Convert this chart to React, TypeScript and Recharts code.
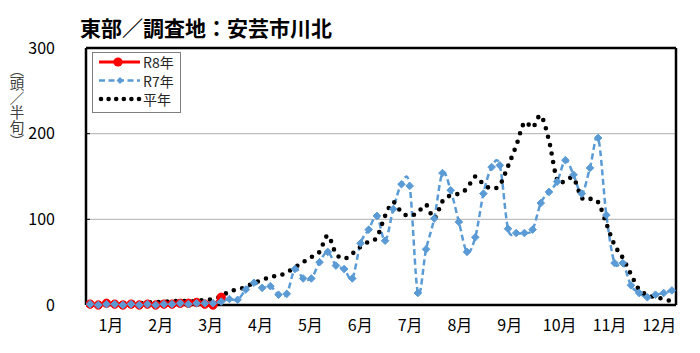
import React from "react";
import {
  ComposedChart,
  Line,
  XAxis,
  YAxis,
  CartesianGrid,
  ReferenceLine,
  Legend,
} from "recharts";

const TITLE = "東部／調査地：安芸市川北";
const Y_LABEL = "（頭／半旬）";
const MONTHS = ["1月", "2月", "3月", "4月", "5月", "6月", "7月", "8月", "9月", "10月", "11月", "12月"];
const Y_TICKS = [0, 100, 200, 300];

// 72 half-month (半旬) periods
const R8 = [1, 0, 2, 1, 0, 1, 0, 1, 0, 1, 1, 2, 2, 3, 1, 0, 9];
const R7 = [
  1, 0, 1, 1, 0, 1,
  0, 1, 0, 1, 1, 2,
  1, 2, 2, 2, 4, 7,
  6, 18, 26, 20, 22, 12,
  13, 42, 31, 31, 50, 62,
  46, 42, 31, 72, 88, 104,
  75, 112, 141, 139, 14, 65,
  101, 154, 134, 97, 62, 79,
  130, 161, 163, 89, 84, 84,
  88, 119, 132, 144, 169, 152,
  130, 160, 195, 105, 49, 49,
  23, 14, 9, 12, 14, 17,
];
const NORMAL = [
  3, 2, 3, 3, 2, 3,
  2, 3, 3, 4, 4, 5,
  4, 5, 6, 7, 10, 16,
  18, 21, 26, 29, 33, 34,
  38, 44, 50, 56, 62, 81,
  60, 54, 60, 68, 74, 79,
  104, 120, 108, 104, 108, 117,
  101, 121, 128, 130, 136, 150,
  141, 136, 140, 162, 186, 213,
  207, 221, 192, 146, 145, 148,
  125, 124, 120, 95, 70, 55,
  36, 18, 12, 9, 7, 4,
];

const SERIES = [
  { key: "r8", name: "R8年", color: "#FF0000" },
  { key: "r7", name: "R7年", color: "#5B9BD5" },
  { key: "avg", name: "平年", color: "#000000" },
];

const data = NORMAL.map((v, i) => ({
  x: i + 0.5,
  r8: i < R8.length ? R8[i] : null,
  r7: R7[i],
  avg: v,
}));

const BOUNDARIES = MONTHS.slice(1).map((_, i) => (i + 1) * 6);
const CENTERS = MONTHS.map((_, i) => i * 6 + 3);

const FONT = "'Noto Sans CJK JP', 'Noto Sans', sans-serif";

// Excel-like smoothed line (Catmull-Rom through points)
const excelSmooth: any = (context: any) => {
  let pts: number[][] = [];
  return {
    areaStart() {},
    areaEnd() {},
    lineStart() {
      pts = [];
    },
    point(x: number, y: number) {
      pts.push([+x, +y]);
    },
    lineEnd() {
      const n = pts.length;
      if (!n) return;
      context.moveTo(pts[0][0], pts[0][1]);
      if (n === 1) return;
      for (let i = 0; i < n - 1; i++) {
        const p0 = pts[Math.max(i - 1, 0)];
        const p1 = pts[i];
        const p2 = pts[i + 1];
        const p3 = pts[Math.min(i + 2, n - 1)];
        context.bezierCurveTo(
          p1[0] + (p2[0] - p0[0]) / 6,
          p1[1] + (p2[1] - p0[1]) / 6,
          p2[0] - (p3[0] - p1[0]) / 6,
          p2[1] - (p3[1] - p1[1]) / 6,
          p2[0],
          p2[1]
        );
      }
    },
  };
};

const Diamond = (props: any) => {
  const { cx, cy, fill } = props;
  if (cx == null || cy == null || props.value == null) return null;
  const s = 3.8;
  return (
    <polygon
      points={`${cx},${cy - s} ${cx + s},${cy} ${cx},${cy + s} ${cx - s},${cy}`}
      fill={fill}
      stroke={fill}
      strokeWidth={1}
    />
  );
};

const Circle = (props: any) => {
  const { cx, cy, fill } = props;
  if (cx == null || cy == null || props.value == null) return null;
  return <circle cx={cx} cy={cy} r={4.2} fill={fill} stroke={fill} strokeWidth={1} />;
};

const LegendBox = () => (
  <div
    style={{
      width: 89,
      height: 61,
      boxSizing: "border-box",
      border: "1px solid #7f7f7f",
      background: "#fff",
    }}
  >
    <svg width={87} height={59} style={{ display: "block" }}>
      {SERIES.map((s, k) => {
        const y = 9 + k * 18.5;
        return (
          <g key={s.key}>
            {s.key === "r8" && (
              <g>
                <line x1={6} x2={47} y1={y} y2={y} stroke={s.color} strokeWidth={3} />
                <circle cx={25} cy={y} r={4.6} fill={s.color} />
              </g>
            )}
            {s.key === "r7" && (
              <g>
                <line x1={6} x2={47} y1={y} y2={y} stroke={s.color} strokeWidth={2.5} strokeDasharray="6 3.5" />
                <polygon
                  points={`27,${y - 3.5} 30.5,${y} 27,${y + 3.5} 23.5,${y}`}
                  fill={s.color}
                />
              </g>
            )}
            {s.key === "avg" && (
              <line
                x1={8}
                x2={46}
                y1={y}
                y2={y}
                stroke={s.color}
                strokeWidth={4.6}
                strokeLinecap="round"
                strokeDasharray="0 7.6"
              />
            )}
            <text
              x={50}
              y={y}
              dominantBaseline="central"
              fontSize={14}
              fontFamily={FONT}
              fill="#262626"
            >
              {s.name}
            </text>
          </g>
        );
      })}
    </svg>
  </div>
);

export default function App() {
  return (
    <div style={{ position: "absolute", left: 0, top: 0, width: 700, height: 353, background: "#fff" }}>
      <ComposedChart
        width={700}
        height={353}
        data={data}
        margin={{ top: 48, right: 24, left: 0, bottom: 0 }}
      >
        <text
          x={80}
          y={27}
          dominantBaseline="central"
          fontSize={21}
          fontWeight="bold"
          fontFamily={FONT}
          fill="#000"
        >
          {TITLE}
        </text>
        <text
          x={17}
          y={62}
          style={{ writingMode: "vertical-rl" } as any}
          fontSize={14.5}
          fontFamily={FONT}
          fill="#404040"
        >
          {Y_LABEL}
        </text>
        <CartesianGrid xAxisId="a" vertical={false} stroke="#BFBFBF" strokeWidth={1.2} />
        <XAxis
          xAxisId="a"
          dataKey="x"
          type="number"
          domain={[0, 72]}
          ticks={BOUNDARIES}
          tick={false}
          tickSize={-5}
          tickLine={{ stroke: "#000", strokeWidth: 1.5 }}
          axisLine={{ stroke: "#000", strokeWidth: 2.5 }}
          height={1}
          allowDataOverflow
        />
        <XAxis
          xAxisId="b"
          type="number"
          domain={[0, 72]}
          ticks={CENTERS}
          tickFormatter={(v: number) => MONTHS[Math.round((v - 3) / 6)]}
          tick={{ fill: "#000", fontSize: 16, fontFamily: FONT }}
          tickLine={false}
          axisLine={false}
          tickSize={0}
          tickMargin={14}
          height={47}
          interval={0}
          allowDataOverflow
        />
        <YAxis
          type="number"
          domain={[0, 300]}
          ticks={Y_TICKS}
          width={86}
          tickSize={-4}
          tickMargin={35}
          tick={{ fill: "#000", fontSize: 16, fontFamily: FONT }}
          tickLine={{ stroke: "#000", strokeWidth: 1 }}
          axisLine={{ stroke: "#000", strokeWidth: 2.5 }}
          interval={0}
        />
        <ReferenceLine xAxisId="a" y={300} stroke="#000" strokeWidth={2.5} />
        <ReferenceLine xAxisId="a" x={72} stroke="#000" strokeWidth={2.5} />
        <Line
          xAxisId="a"
          dataKey="r8"
          name="R8年"
          type={excelSmooth}
          stroke="#FF0000"
          strokeWidth={3}
          dot={<Circle fill="#FF0000" />}
          activeDot={false}
          isAnimationActive={false}
        />
        <Line
          xAxisId="a"
          dataKey="r7"
          name="R7年"
          type={excelSmooth}
          stroke="#5B9BD5"
          strokeWidth={2.5}
          strokeDasharray="6 3.5"
          dot={<Diamond fill="#5B9BD5" />}
          activeDot={false}
          isAnimationActive={false}
        />
        <Line
          xAxisId="a"
          dataKey="avg"
          name="平年"
          type={excelSmooth}
          stroke="#000"
          strokeWidth={4.6}
          strokeLinecap="round"
          strokeDasharray="0 8.6"
          dot={false}
          activeDot={false}
          isAnimationActive={false}
        />
        <Legend
          layout="vertical"
          align="center"
          verticalAlign="middle"
          content={<LegendBox />}
          wrapperStyle={{ left: 92, top: 52, width: 89, height: 61 }}
        />
      </ComposedChart>
    </div>
  );
}
